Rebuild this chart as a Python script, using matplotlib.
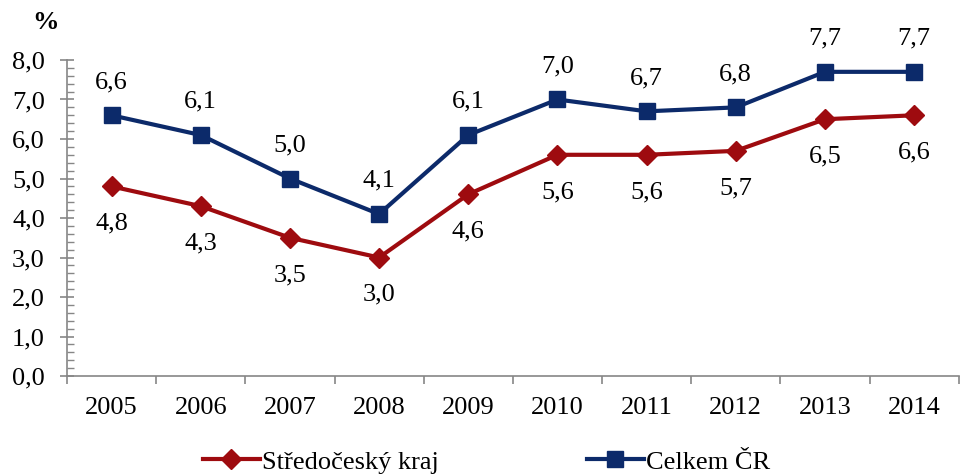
import matplotlib.pyplot as plt
import numpy as np

years = ["2005", "2006", "2007", "2008", "2009", "2010", "2011", "2012", "2013", "2014"]
stredocesky = [4.8, 4.3, 3.5, 3.0, 4.6, 5.6, 5.6, 5.7, 6.5, 6.6]
celkem = [6.6, 6.1, 5.0, 4.1, 6.1, 7.0, 6.7, 6.8, 7.7, 7.7]

plt.rcParams['font.family'] = ['Liberation Serif', 'DejaVu Serif']
red = "#9E0B0F"
blue = "#0C2A6A"
gray = "#868686"
fs = 19

fig = plt.figure(figsize=(9.64, 4.76), dpi=100)
ax = fig.add_axes([0.0695, 0.21, 0.925, 0.664])

x = np.arange(len(years))
ax.plot(x, stredocesky, color=red, linewidth=3, marker="D", markersize=10,
        label="Středočeský kraj")
ax.plot(x, celkem, color=blue, linewidth=3, marker="s", markersize=12,
        label="Celkem ČR")

for xi, v in zip(x, stredocesky):
    ax.annotate(f"{v:.1f}".replace(".", ","), (xi, v), xytext=(0, -19),
                textcoords="offset points", ha="center", va="top", fontsize=fs)
for xi, v in zip(x, celkem):
    ax.annotate(f"{v:.1f}".replace(".", ","), (xi, v), xytext=(0, 16),
                textcoords="offset points", ha="center", va="bottom", fontsize=fs)

ax.set_xlim(-0.5, 9.5)
ax.set_ylim(0, 8)
ax.set_xticks(np.arange(-0.5, 10, 1))
ax.set_xticklabels([])
ax.set_xticks(x, minor=True)
ax.set_xticklabels(years, minor=True, fontsize=fs)
ax.tick_params(axis="x", which="major", length=6, color=gray, width=1.2)
ax.tick_params(axis="x", which="minor", length=0, pad=15)

ax.set_yticks(np.arange(0, 8.1, 1))
ax.set_yticklabels([f"{v:.1f}".replace(".", ",") for v in np.arange(0, 8.1, 1)], fontsize=fs)
ax.set_yticks(np.arange(0, 8.01, 0.2), minor=True)
ax.tick_params(axis="y", which="major", direction="inout", length=10, color=gray, width=1.2, pad=11)
ax.tick_params(axis="y", which="minor", direction="in", length=5, color=gray, width=1)

for s in ["top", "right"]:
    ax.spines[s].set_visible(False)
for s in ["left", "bottom"]:
    ax.spines[s].set_color(gray)
    ax.spines[s].set_linewidth(1.2)

fig.text(0.047, 0.953, "%", fontsize=fs, fontweight="bold", ha="center", va="center")

fig.legend(loc="lower center", bbox_to_anchor=(0.505, -0.045), ncol=2, frameon=False,
           fontsize=fs, columnspacing=5.6, handlelength=2.15, handletextpad=0.1)

fig.savefig("out.png", dpi=100)
